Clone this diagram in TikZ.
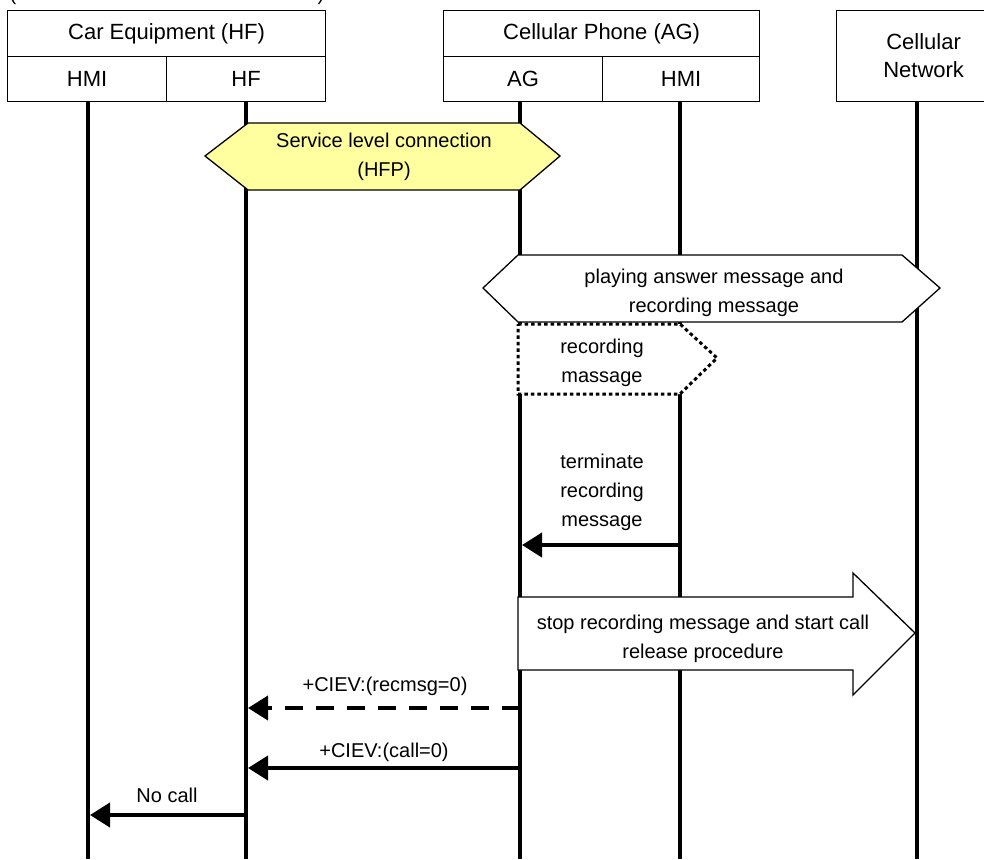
\documentclass[tikz,border=0pt]{standalone}
\usepackage{fontspec}
\setmainfont{Liberation Sans}
\usetikzlibrary{arrows.meta}
\definecolor{slyellow}{RGB}{255,255,160}
\begin{document}
\begin{tikzpicture}[x=1pt,y=-1pt,
  lbl/.style={font=\fontsize{20}{29}\selectfont, inner sep=0pt, align=center},
  hdr/.style={draw, line width=1.2pt, font=\fontsize{22}{28}\selectfont, align=center, inner sep=0pt, anchor=north west},
  life/.style={line width=4pt},
  msg/.style={line width=4pt, -{Triangle[length=20pt,width=24pt]}},
  shp/.style={draw, line width=1.3pt, fill=white, line join=miter},
]
\useasboundingbox (0,0) rectangle (984,859);

% clipped text remnants at the top
\node[lbl, anchor=base] (lp) at (13,1) {(};
\node[lbl, anchor=base] (rp) at (321,1) {)};

% header boxes
\node[hdr, minimum width=318, minimum height=46] (car) at (7,10) {Car Equipment (HF)};
\node[hdr, minimum width=159, minimum height=45] (carhmi) at (7,56) {HMI};
\node[hdr, minimum width=159, minimum height=45] (carhf) at (166,56) {HF};
\node[hdr, minimum width=316, minimum height=46] (phone) at (443,10) {Cellular Phone (AG)};
\node[hdr, minimum width=159, minimum height=45] (ag) at (443,56) {AG};
\node[hdr, minimum width=157, minimum height=45] (phmi) at (602,56) {HMI};
\node[hdr, minimum width=174, minimum height=91] (net) at (836,10) {Cellular\\Network};

% lifelines
\coordinate (l1) at (88,859);
\coordinate (l2) at (246,859);
\coordinate (l3) at (520,859);
\coordinate (l4) at (680,859);
\coordinate (l5) at (917,859);
\draw[life] (carhmi.south -| l1) -- (l1);
\draw[life] (carhf.south -| l2) -- (l2);
\draw[life] (ag.south -| l3) -- (l3);
\draw[life] (phmi.south -| l4) -- (l4);
\draw[life] (net.south -| l5) -- (l5);

% service level connection
\draw[shp, fill=slyellow] (205,156) -- (248,123) -- (520,123) -- (560,156) -- (520,190) -- (248,190) -- cycle;
\node[lbl] (slc) at (384,157) {Service level connection\\(HFP)};

% playing answer message
\draw[shp] (483,288) -- (518,255) -- (902,255) -- (940,288) -- (902,322) -- (518,322) -- cycle;
\node[lbl] (play) at (714,293) {playing answer message and\\recording message};

% recording massage (dotted)
\draw[shp, line width=3pt, dash pattern=on 3.5pt off 3pt] (518,324) -- (680,324) -- (717,358) -- (680,394) -- (518,394) -- cycle;
\node[lbl] (recm) at (602,363) {recording\\massage};

% terminate recording message
\coordinate (t1) at (680,545);
\coordinate (t2) at (522,545);
\draw[msg] (t1) -- (t2);
\node[lbl] (term) at (602,492) {terminate\\recording\\message};

% stop recording block arrow
\draw[shp] (518,597) -- (853,597) -- (853,573) -- (915,633) -- (853,695) -- (853,670) -- (518,670) -- cycle;
\node[lbl] (stop) at (703,639) {stop recording message and start call\\release procedure};

% +CIEV recmsg
\coordinate (r1) at (520,708);
\coordinate (r2) at (248,708);
\draw[msg, dash pattern=on 18pt off 13pt] (r1) -- (r2);
\node[lbl] (rlab) at (385,686) {+CIEV:(recmsg=0)};

% +CIEV call
\coordinate (c1) at (520,768);
\coordinate (c2) at (248,768);
\draw[msg] (c1) -- (c2);
\node[lbl] (clab) at (384,752) {+CIEV:(call=0)};

% No call
\coordinate (n1) at (246,815);
\coordinate (n2) at (90,815);
\draw[msg] (n1) -- (n2);
\node[lbl] (nlab) at (167,795) {No call};
\end{tikzpicture}
\end{document}
